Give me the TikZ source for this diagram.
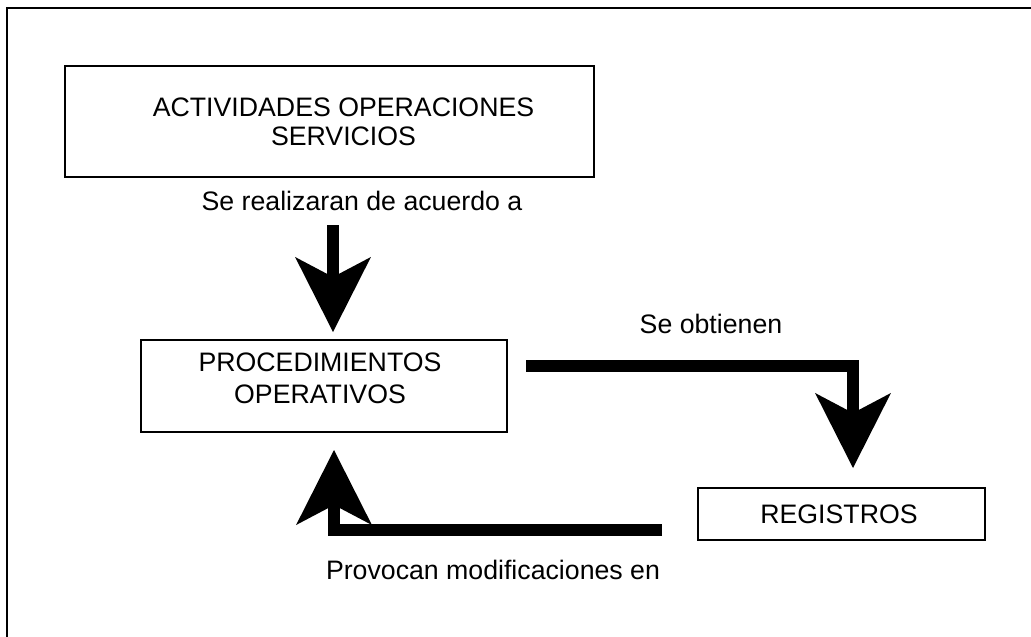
\documentclass[tikz,border=0pt]{standalone}
\usepackage{fontspec}
\setmainfont{Liberation Sans}
\usetikzlibrary{arrows.meta}
\begin{document}
\begin{tikzpicture}[x=0.02cm,y=-0.02cm,
  box/.style={draw, line width=1.1pt, inner sep=0pt},
  txt/.style={inner sep=0pt, align=center, font=\fontsize{15.2}{16.5}\selectfont},
  bigarrow/.style={line width=6.8pt, line join=miter, -{Stealth[length=42.7pt, width=43.2pt, inset=11.4pt, line width=0pt]}}]
\clip (0,0) rectangle (1031,636);
\draw[line width=1.1pt] (7,8) rectangle (1060,670);
\node[box, minimum width=10.58cm, minimum height=2.22cm] (act) at (329.5,121.5) {};
\node[txt] (actt) at (343.5,121.5) {ACTIVIDADES OPERACIONES\\SERVICIOS};
\node[box, minimum width=7.32cm, minimum height=1.84cm] (proc) at (324,386) {};
\node[txt, font=\fontsize{15.2}{18.2}\selectfont] (proct) at (320,378) {PROCEDIMIENTOS\\OPERATIVOS};
\node[box, minimum width=5.74cm, minimum height=1.04cm] (reg) at (841.5,514) {};
\node[txt] (regt) at (839,514) {REGISTROS};
\node[txt] (l1) at (362,201) {Se realizaran de acuerdo a};
\node[txt] (l2) at (711,324) {Se obtienen};
\node[txt] (l3) at (493,570) {Provocan modificaciones en};
\coordinate (a1s) at (333,225);
\coordinate (a1e) at (333,332);
\coordinate (a2s) at (526,366);
\coordinate (a2c) at (853,366);
\coordinate (a2e) at (853,468);
\coordinate (a3s) at (662,530);
\coordinate (a3c) at (334,530);
\coordinate (a3e) at (334,450);
\draw[bigarrow] (a1s) -- (a1e);
\draw[bigarrow] (a2s) -- (a2c) -- (a2e);
\draw[bigarrow] (a3s) -- (a3c) -- (a3e);
\end{tikzpicture}
\end{document}
